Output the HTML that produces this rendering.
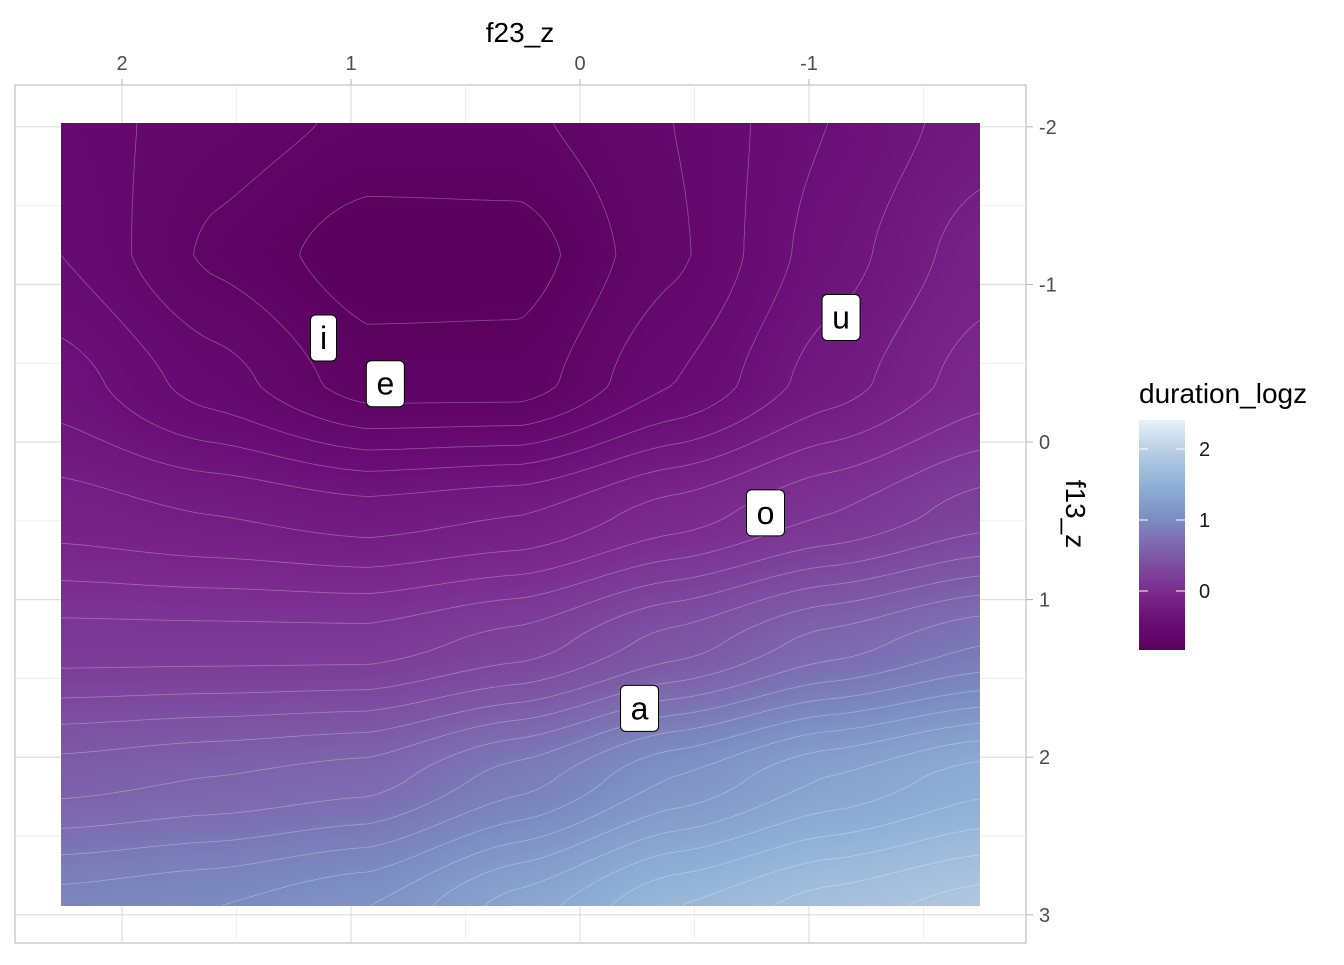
<!DOCTYPE html>
<html><head><meta charset="utf-8">
<style>
html,body{margin:0;padding:0;background:#fff;}
body{width:1344px;height:960px;position:relative;overflow:hidden;font-family:"Liberation Sans",Arial,sans-serif;}
svg text{font-family:"Liberation Sans",Arial,sans-serif;}
</style></head>
<body>
<svg id="chart" width="1344" height="960" xmlns="http://www.w3.org/2000/svg">
  <defs>
    <linearGradient id="cbar" x1="0" y1="1" x2="0" y2="0"></linearGradient>
    <clipPath id="rasterClip"><rect x="61" y="123" width="919" height="783"/></clipPath>
  </defs>
  <rect x="15" y="85" width="1011" height="858" fill="#fff" stroke="#b3b3b3" stroke-width="1"/>
  <g id="grid"></g>
  <foreignObject x="61" y="123" width="919" height="783">
    <canvas id="heat" width="919" height="783" xmlns="http://www.w3.org/1999/xhtml" style="display:block"></canvas>
  </foreignObject>
  <g id="contours" clip-path="url(#rasterClip)"></g>
  <g id="labels"></g>
  <g id="axes"></g>
  <text x="520" y="42" font-size="28" text-anchor="middle" fill="#000">f23_z</text>
  <text x="1066" y="514" font-size="28" text-anchor="middle" fill="#000" transform="rotate(90 1066 514)">f13_z</text>
  <g>
    <text x="1139" y="403" font-size="28" fill="#000">duration_logz</text>
    <rect x="1139" y="420" width="46" height="230" fill="url(#cbar)"/>
    <g id="legendTicks"></g>
  </g>
</svg>
<script>
// ---- data ----
const xGridF23 = [2.27, 1.6, 0.93, 0.26, -0.41, -1.08, -1.75];
const yGridF13 = [-2.02, -1.19, -0.37, 0.46, 1.29, 2.12, 2.95];
const zRow0 = [-0.55, -0.65, -0.72, -0.72, -0.6, -0.4, -0.25];
const zRow1 = [-0.5, -0.72, -0.86, -0.85, -0.62, -0.35, -0.15];
const zRow2 = [-0.35, -0.55, -0.75, -0.75, -0.5, -0.25, -0.05];
const zRow3 = [-0.15, -0.2, -0.25, -0.2, -0.05, 0.1, 0.25];
const zRow4 = [0.15, 0.15, 0.15, 0.25, 0.45, 0.65, 0.8];
const zRow5 = [0.55, 0.6, 0.65, 0.85, 1.1, 1.3, 1.45];
const zRow6 = [0.95, 1.0, 1.1, 1.35, 1.6, 1.75, 1.85];
const zRows = [zRow0, zRow1, zRow2, zRow3, zRow4, zRow5, zRow6];
const vowels = ["i", "e", "u", "o", "a"];
const vowelF23 = [1.12, 0.85, -1.14, -0.81, -0.26];
const vowelF13 = [-0.66, -0.37, -0.79, 0.45, 1.69];
const xTicks = [2, 1, 0, -1];
const xTickLabels = ["2", "1", "0", "-1"];
const xMinor = [1.5, 0.5, -0.5, -1.5];
const yTicks = [-2, -1, 0, 1, 2, 3];
const yTickLabels = ["-2", "-1", "0", "1", "2", "3"];
const yMinor = [-1.5, -0.5, 0.5, 1.5, 2.5];
const legendTicks = [0, 1, 2];
const colorStops = [-0.83, -0.4, 0, 0.5, 1, 1.5, 2, 2.41];
const colorHex = ["#5c005f", "#6a0f77", "#7b2c8f", "#7c5aa5", "#7b8bc1", "#8fb1d6", "#bccfe4", "#e6f3f9"];

// ---- scales ----
const xS = v => 580 - 229 * v;
const yS = v => 442 + 157.6 * v;
const legS = v => 591 - 71 * v;
const NS = "http://www.w3.org/2000/svg";
function mk(tag, attrs, parent) { const e = document.createElementNS(NS, tag); for (const k in attrs) e.setAttribute(k, attrs[k]); parent.appendChild(e); return e; }

function hex2rgb(h){return [parseInt(h.slice(1,3),16),parseInt(h.slice(3,5),16),parseInt(h.slice(5,7),16)];}
const rgbStops = colorHex.map(hex2rgb);
function colorFor(v){
  if (v <= colorStops[0]) return rgbStops[0];
  for (let i=1;i<colorStops.length;i++){
    if (v <= colorStops[i]){const t=(v-colorStops[i-1])/(colorStops[i]-colorStops[i-1]);const a=rgbStops[i-1],b=rgbStops[i];return [a[0]+(b[0]-a[0])*t,a[1]+(b[1]-a[1])*t,a[2]+(b[2]-a[2])*t];}
  }
  return rgbStops[rgbStops.length-1];
}

// grid lines
const grid = document.getElementById('grid');
xMinor.forEach(v=>{const l=mk('line',{x1:xS(v),x2:xS(v),y1:85,y2:943,stroke:'#efefef','stroke-width':1},grid);});
yMinor.forEach(v=>{const l=mk('line',{x1:15,x2:1026,y1:yS(v),y2:yS(v),stroke:'#efefef','stroke-width':1},grid);});
xTicks.forEach(v=>{const l=mk('line',{x1:xS(v),x2:xS(v),y1:85,y2:943,stroke:'#dedede','stroke-width':1.2},grid);});
yTicks.forEach(v=>{const l=mk('line',{x1:15,x2:1026,y1:yS(v),y2:yS(v),stroke:'#dedede','stroke-width':1.2},grid);});

// interpolation
function interp(f23, f13){
  const nx=xGridF23.length, ny=yGridF13.length;
  let fx=(xGridF23[0]-f23)/(xGridF23[0]-xGridF23[nx-1])*(nx-1);
  let fy=(f13-yGridF13[0])/(yGridF13[ny-1]-yGridF13[0])*(ny-1);
  fx=Math.max(0,Math.min(nx-1.0001,fx)); fy=Math.max(0,Math.min(ny-1.0001,fy));
  const i=Math.floor(fx), j=Math.floor(fy), tx=fx-i, ty=fy-j;
  const sx=tx*tx*(3-2*tx)*0.5+tx*0.5, sy=ty*ty*(3-2*ty)*0.5+ty*0.5;
  const a=zRows[j][i], b=zRows[j][i+1], c=zRows[j+1][i], d=zRows[j+1][i+1];
  return a*(1-sx)*(1-sy)+b*sx*(1-sy)+c*(1-sx)*sy+d*sx*sy;
}
const px2f23 = x => (580 - x)/229;
const px2f13 = y => (y - 442)/157.6;

// heat raster
const cv=document.getElementById('heat'); const ctx=cv.getContext('2d');
const img=ctx.createImageData(919,783);
for(let y=0;y<783;y++){for(let x=0;x<919;x++){
  const v=interp(px2f23(61+x+0.5),px2f13(123+y+0.5)); const c=colorFor(v); const k=(y*919+x)*4;
  img.data[k]=c[0];img.data[k+1]=c[1];img.data[k+2]=c[2];img.data[k+3]=255;}}
ctx.putImageData(img,0,0);

// contours (marching squares)
const cg=document.getElementById('contours');
const step=6, gx0=61, gy0=123, GW=Math.ceil(919/step)+1, GH=Math.ceil(783/step)+1;
const F=[]; for(let j=0;j<GH;j++){F.push([]);for(let i=0;i<GW;i++)F[j].push(interp(px2f23(gx0+i*step),px2f13(gy0+j*step)));}
for(let lvl=-0.8; lvl<2.3; lvl+=0.1){
  let d='';
  for(let j=0;j<GH-1;j++)for(let i=0;i<GW-1;i++){
    const v=[F[j][i],F[j][i+1],F[j+1][i+1],F[j+1][i]];
    const p=[[gx0+i*step,gy0+j*step],[gx0+(i+1)*step,gy0+j*step],[gx0+(i+1)*step,gy0+(j+1)*step],[gx0+i*step,gy0+(j+1)*step]];
    const pts=[];
    for(let e=0;e<4;e++){const a=v[e],b=v[(e+1)%4];if((a<lvl)!==(b<lvl)){const t=(lvl-a)/(b-a);const A=p[e],B=p[(e+1)%4];pts.push([A[0]+(B[0]-A[0])*t,A[1]+(B[1]-A[1])*t]);}}
    if(pts.length>=2)d+='M'+pts[0][0].toFixed(1)+' '+pts[0][1].toFixed(1)+'L'+pts[1][0].toFixed(1)+' '+pts[1][1].toFixed(1);
    if(pts.length===4)d+='M'+pts[2][0].toFixed(1)+' '+pts[2][1].toFixed(1)+'L'+pts[3][0].toFixed(1)+' '+pts[3][1].toFixed(1);
  }
  const path=mk('path',{d:d,fill:'none',stroke:'rgba(255,255,255,0.3)','stroke-width':0.8},cg);
  
  
}

// vowel labels
const lg=document.getElementById('labels');
vowels.forEach((s,i)=>{
  const cx=xS(vowelF23[i]), cy=yS(vowelF13[i]);
  const g=mk('g',{},lg);
  
  
  const w = s==='i'?26:38;
  mk('rect',{x:cx-w/2,y:cy-23,width:w,height:46,rx:5,fill:'#fff',stroke:'#000','stroke-width':1},g);
  const t=mk('text',{x:cx,y:cy+11,'font-size':32,'text-anchor':'middle',fill:'#000'},g); t.textContent=s;
});

// axes
const ax=document.getElementById('axes');
xTicks.forEach((v,i)=>{
  const l=mk('line',{x1:xS(v),x2:xS(v),y1:79,y2:85,stroke:'#b3b3b3'},ax);
  
  const t=mk('text',{x:xS(v),y:70,'font-size':20,'text-anchor':'middle',fill:'#4d4d4d'},ax);
  t.textContent=xTickLabels[i];
});
yTicks.forEach((v,i)=>{
  const l=mk('line',{x1:1026,x2:1033,y1:yS(v),y2:yS(v),stroke:'#b3b3b3'},ax);
  
  const t=mk('text',{x:1039,y:yS(v)+7,'font-size':20,fill:'#4d4d4d'},ax);
  t.textContent=yTickLabels[i];
});

// legend gradient + ticks
const grad=document.getElementById('cbar');
colorStops.forEach((s,i)=>{mk('stop',{offset:((s-colorStops[0])/(colorStops[colorStops.length-1]-colorStops[0])).toFixed(3),'stop-color':colorHex[i]},grad);});
const lt=document.getElementById('legendTicks');
legendTicks.forEach(v=>{
  mk('line',{x1:1139,x2:1148,y1:legS(v),y2:legS(v),stroke:'#fff','stroke-width':1},lt);
  mk('line',{x1:1176,x2:1185,y1:legS(v),y2:legS(v),stroke:'#fff','stroke-width':1},lt);
  const t=mk('text',{x:1199,y:legS(v)+7,'font-size':20,fill:'#1a1a1a'},lt);
  t.textContent=String(v);
});
</script>
</body></html>
